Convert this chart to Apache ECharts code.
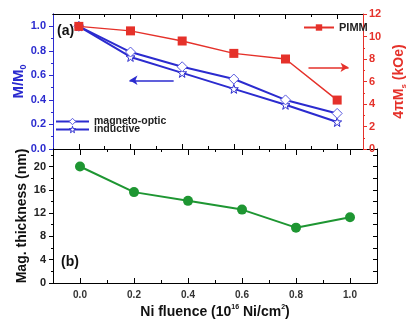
<!DOCTYPE html>
<html>
<head>
<meta charset="utf-8">
<script src="https://cdn.jsdelivr.net/npm/echarts@6/dist/echarts.min.js"></script>
<style>
  html, body { margin: 0; padding: 0; background: #fff; }
  #chart { width: 416px; height: 320px; }
</style>
</head>
<body>
<div id="chart"></div>
<script>
// Ni fluence in units of 1e16 Ni/cm^2
const fluence = [0.0, 0.2, 0.4, 0.6, 0.8, 1.0];
// (a) normalised magnetisation
const magnetoOptic = [1.0, 0.79, 0.67, 0.57, 0.40, 0.29];
const inductive = [1.0, 0.75, 0.62, 0.49, 0.36, 0.22];
// (a) 4πMs from PIMM, kOe
const pimm = [10.9, 10.5, 9.6, 8.5, 8.0, 4.35];
// (b) magnetic thickness, nm
const magThickness = [20.0, 15.6, 14.1, 12.6, 9.5, 11.3];

const xMajor = [0.0, 0.2, 0.4, 0.6, 0.8, 1.0];
const xMinor = [0.1, 0.3, 0.5, 0.7, 0.9];
const mMajor = [0.0, 0.2, 0.4, 0.6, 0.8, 1.0];
const mMinor = [0.1, 0.3, 0.5, 0.7, 0.9];
const tMajor = [0, 4, 8, 12, 16, 20];
const tMinor = [2, 6, 10, 14, 18, 22];
const tRight = [2, 4, 6, 8, 10, 12, 14, 16, 18, 20, 22];

const BLUE = '#2b2bcf';
const RED = '#e5312a';
const GREEN = '#1e9632';
const FONT = 'Liberation Sans, Arial, sans-serif';

const pairs = (ys) => fluence.map((x, i) => [x, ys[i]]);
const STAR = 'path://M0,-10L2.35,-3.24L9.51,-3.09L3.8,1.24L5.88,8.09L0,4L-5.88,8.09L-3.8,1.24L-9.51,-3.09L-2.35,-3.24Z';

function xAx(grid, pos, ticks, len, extra) {
  return Object.assign({
    type: 'value', gridIndex: grid, position: pos, min: -0.1, max: 1.1,
    axisLine: { show: true, onZero: false, lineStyle: { color: '#000', width: 1 } },
    axisTick: { show: true, inside: true, length: len, customValues: ticks, lineStyle: { color: '#000', width: 1 } },
    axisLabel: { show: false },
    splitLine: { show: false }
  }, extra || {});
}

function yAx(grid, pos, min, max, ticks, len, inside, color, extra) {
  return Object.assign({
    type: 'value', gridIndex: grid, position: pos, min: min, max: max,
    axisLine: { show: true, onZero: false, lineStyle: { color: color, width: 1 } },
    axisTick: { show: true, inside: inside, length: len, customValues: ticks, lineStyle: { color: color, width: 1 } },
    axisLabel: { show: false },
    splitLine: { show: false }
  }, extra || {});
}

const labelStyle = (color, size) => ({ color: color, fontFamily: FONT, fontWeight: 'bold', fontSize: size });

const option = {
  animation: false,
  backgroundColor: '#fff',
  grid: [
    { left: 53, right: 39, top: 14, height: 135 },
    { left: 53, right: 39, top: 149, height: 134 }
  ],
  xAxis: [
    xAx(0, 'bottom', xMajor, 5),
    xAx(0, 'top', xMajor, 5),
    xAx(0, 'top', xMinor, 3),
    xAx(0, 'bottom', xMinor, 3),
    xAx(1, 'top', xMajor, 6),
    xAx(1, 'top', xMinor, 3),
    xAx(1, 'bottom', xMajor, 5, {
      axisLabel: Object.assign({ show: true, margin: 7, customValues: xMajor,
        formatter: (v) => v.toFixed(1) }, labelStyle('#333', 10)),
      name: '{t|Ni fluence (10}{sup|16}{t| Ni/cm}{sup|2}{t|)}',
      nameLocation: 'middle', nameGap: 21, nameMoveOverlap: false,
      nameTextStyle: {
        rich: {
          t: { fontFamily: FONT, fontWeight: 'bold', fontSize: 14, color: '#111', lineHeight: 16 },
          sup: { fontFamily: FONT, fontWeight: 'bold', fontSize: 7, color: '#111', verticalAlign: 'top', lineHeight: 16 }
        }
      }
    }),
    xAx(1, 'bottom', xMinor, 3)
  ],
  yAxis: [
    yAx(0, 'left', 0, 1.1, mMajor, 4, false, BLUE, {
      axisLabel: Object.assign({ show: true, margin: 7, customValues: mMajor,
        formatter: (v) => v.toFixed(1) }, labelStyle(BLUE, 11)),
      name: '{t|M/M}{sub|0}', nameLocation: 'middle', nameGap: 25, nameRotate: 90, nameMoveOverlap: false,
      nameTextStyle: {
        rich: {
          t: { fontFamily: FONT, fontWeight: 'bold', fontSize: 15, color: BLUE, lineHeight: 18 },
          sub: { fontFamily: FONT, fontWeight: 'bold', fontSize: 9, color: BLUE, verticalAlign: 'bottom', lineHeight: 14 }
        }
      }
    }),
    yAx(0, 'left', 0, 1.1, mMinor, 2, false, BLUE),
    {
      type: 'value', gridIndex: 0, position: 'right', min: 0, max: 12, interval: 2,
      axisLine: { show: true, onZero: false, lineStyle: { color: RED, width: 1 } },
      axisTick: { show: true, inside: false, length: 4, lineStyle: { color: RED } },
      minorTick: { show: true, splitNumber: 2, length: 2, lineStyle: { color: RED } },
      axisLabel: Object.assign({ show: true, margin: 6 }, labelStyle(RED, 11)),
      splitLine: { show: false },
      name: '{t|4πM}{sub|s}{t| (kOe)}', nameLocation: 'middle', nameGap: 28, nameRotate: 90, nameMoveOverlap: false,
      nameTextStyle: {
        rich: {
          t: { fontFamily: FONT, fontWeight: 'bold', fontSize: 14, color: RED, lineHeight: 17 },
          sub: { fontFamily: FONT, fontWeight: 'bold', fontSize: 8, color: RED, verticalAlign: 'bottom', lineHeight: 13 }
        }
      }
    },
    yAx(1, 'left', 0, 23, tMajor, 4, false, '#000', {
      axisLabel: Object.assign({ show: true, margin: 7, customValues: tMajor }, labelStyle('#222', 11)),
      name: 'Mag. thickness (nm)', nameLocation: 'middle', nameGap: 24, nameRotate: 90, nameMoveOverlap: false,
      nameTextStyle: labelStyle('#111', 14)
    }),
    yAx(1, 'left', 0, 23, tMinor, 2, false, '#000'),
    yAx(1, 'right', 0, 23, tRight, 4, true, '#000')
  ],
  legend: [
    {
      data: [{ name: 'PIMM' }], left: 303, top: 22, padding: 0, itemWidth: 30, itemHeight: 8, itemGap: 0,
      textStyle: labelStyle('#222', 11)
    },
    {
      data: [{ name: 'magneto-optic', itemStyle: { color: '#fff', borderColor: '#5a5ae0', borderWidth: 1 } }],
      left: 55, top: 116, padding: 0, itemWidth: 33, itemHeight: 8, itemGap: 0,
      textStyle: labelStyle('#222', 10.5)
    },
    {
      data: [{ name: 'inductive', itemStyle: { color: '#fff', borderColor: BLUE, borderWidth: 1 } }],
      left: 55, top: 124, padding: 0, itemWidth: 33, itemHeight: 8, itemGap: 0,
      textStyle: labelStyle('#222', 10.5)
    }
  ],
  graphic: [
    { type: 'text', left: 57, top: 24, style: { text: '(a)', font: 'bold 14px ' + FONT, fill: '#111' } },
    { type: 'text', left: 61, top: 255, style: { text: '(b)', font: 'bold 14px ' + FONT, fill: '#111' } }
  ],
  series: [
    {
      name: 'inductive', type: 'line', xAxisIndex: 0, yAxisIndex: 0,
      data: pairs(inductive),
      symbol: STAR, symbolSize: 9,
      lineStyle: { color: BLUE, width: 2 },
      itemStyle: { color: '#fff', borderColor: BLUE, borderWidth: 1 },
      z: 3
    },
    {
      name: 'magneto-optic', type: 'line', xAxisIndex: 0, yAxisIndex: 0,
      data: pairs(magnetoOptic),
      symbol: 'diamond', symbolSize: 10,
      lineStyle: { color: BLUE, width: 2 },
      itemStyle: { color: '#fff', borderColor: '#5a5ae0', borderWidth: 1 },
      markLine: {
        silent: true, symbol: ['none', 'arrow'], symbolSize: [7, 8],
        label: { show: false },
        lineStyle: { color: BLUE, width: 1.5, type: 'solid' },
        data: [[{ coord: [0.367, 0.56] }, { coord: [0.196, 0.56] }]]
      },
      z: 4
    },
    {
      name: 'PIMM', type: 'line', xAxisIndex: 0, yAxisIndex: 2,
      data: pairs(pimm),
      symbol: 'rect', symbolSize: 9,
      lineStyle: { color: RED, width: 1.5 },
      itemStyle: { color: RED },
      markLine: {
        silent: true, symbol: ['none', 'arrow'], symbolSize: [7, 8],
        label: { show: false },
        lineStyle: { color: RED, width: 1.5, type: 'solid' },
        data: [[{ coord: [0.889, 7.26] }, { coord: [1.044, 7.26] }]]
      },
      z: 5
    },
    {
      name: 'thickness', type: 'line', xAxisIndex: 6, yAxisIndex: 3,
      data: pairs(magThickness),
      symbol: 'circle', symbolSize: 10,
      lineStyle: { color: GREEN, width: 2 },
      itemStyle: { color: GREEN }
    }
  ]
};

const chart = echarts.init(document.getElementById('chart'), null, { renderer: 'canvas' });
chart.setOption(option);
</script>
</body>
</html>
